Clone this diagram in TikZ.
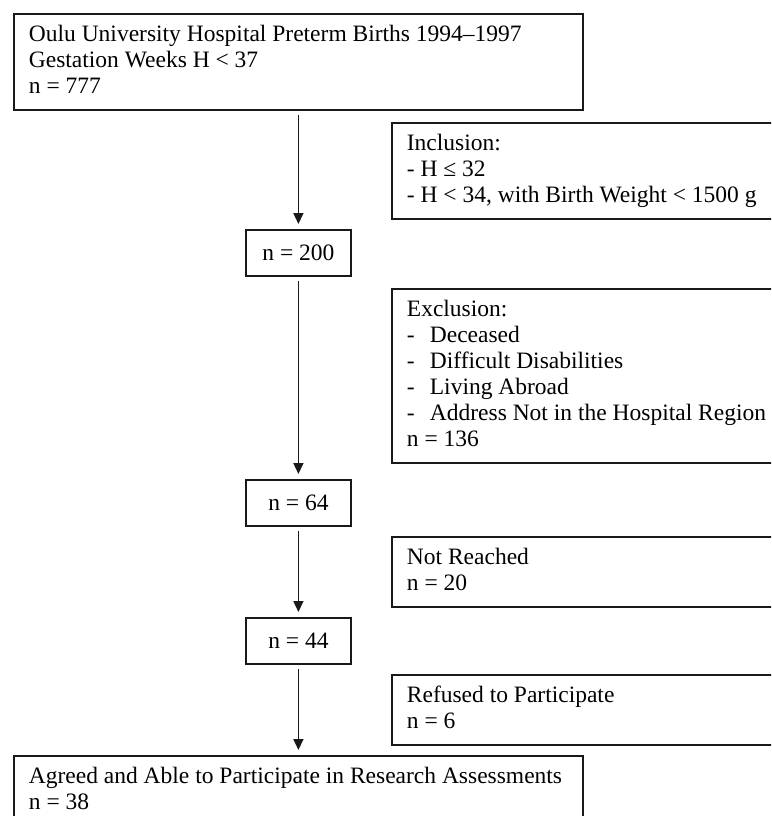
\documentclass[tikz,border=0pt]{standalone}
\usepackage{fontspec}
\setmainfont{Liberation Serif}
\usetikzlibrary{arrows.meta}
\newcommand{\lineT}[1]{\strut\mbox{\spaceskip=0pt\relax #1}}
\begin{document}
\begin{tikzpicture}[x=1pt,y=-1pt,
  box/.style={draw=black!90, line width=1.8pt, anchor=north west, align=left,
    inner xsep=15pt, inner ysep=9pt, font=\fontsize{23.5}{26}\selectfont},
  nbox/.style={draw=black!90, line width=1.8pt, anchor=north west,
    minimum width=105pt, minimum height=46pt, inner sep=0pt,
    font=\fontsize{23.5}{26}\selectfont},
  arr/.style={line width=1.6pt, draw=black!90, -{Triangle[length=11pt,width=10pt]},
    shorten <=4.5pt, shorten >=5pt}]
\useasboundingbox (0,0) rectangle (771,816);
\clip (0,0) rectangle (771,816);
\node[box, text width=539pt] (top) at (13,13)
  {\lineT{Oulu University Hospital Preterm Births 1994–1997}\\
   \lineT{Gestation Weeks H < 37}\\
   \lineT{n = 777}};
\node[box, text width=470pt] (incl) at (391,122)
  {\lineT{Inclusion:}\\
   \lineT{- H ≤ 32}\\
   \lineT{- H < 34, with Birth Weight < 1500 g}};
\node[nbox] (n200) at (245,229) {n = 200};
\node[box, text width=470pt] (excl) at (391,288)
  {\lineT{Exclusion:}\\
   \lineT{\makebox[23pt][l]{-}Deceased}\\
   \lineT{\makebox[23pt][l]{-}Difficult Disabilities}\\
   \lineT{\makebox[23pt][l]{-}Living Abroad}\\
   \lineT{\makebox[23pt][l]{-}Address Not in the Hospital Region}\\
   \lineT{n = 136}};
\node[nbox] (n64) at (245,479) {n = 64};
\node[box, text width=470pt] (notr) at (391,536)
  {\lineT{Not Reached}\\
   \lineT{n = 20}};
\node[nbox] (n44) at (245,617) {n = 44};
\node[box, text width=470pt] (refu) at (391,674)
  {\lineT{Refused to Participate}\\
   \lineT{n = 6}};
\node[box, text width=539pt] (final) at (13,755)
  {\lineT{Agreed and Able to Participate in Research Assessments}\\
   \lineT{n = 38}};
\draw[arr] (top.south -| n200.north) -- (n200.north);
\draw[arr] (n200.south) -- (n64.north);
\draw[arr] (n64.south) -- (n44.north);
\draw[arr] (n44.south) -- (n44.south |- final.north);
\end{tikzpicture}
\end{document}
